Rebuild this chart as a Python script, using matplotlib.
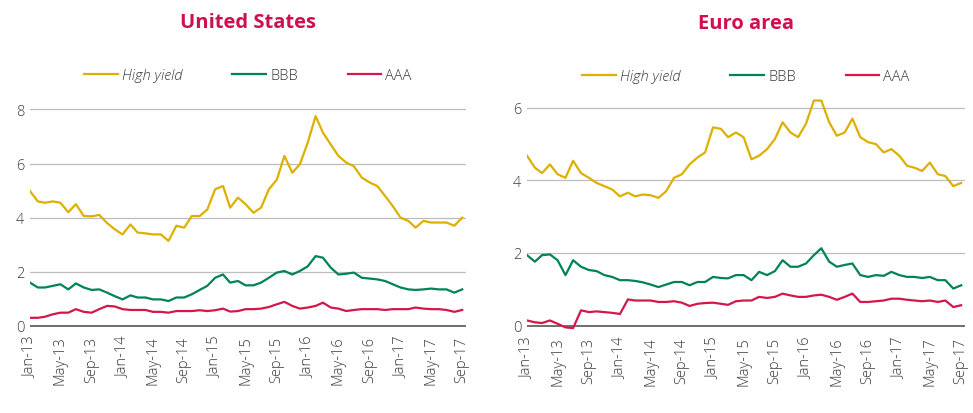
#!/usr/bin/env python3

from __future__ import annotations

import matplotlib
import pandas as pd

matplotlib.use("Agg")
import matplotlib.pyplot as plt


# monthly readings, Jan-13 .. Sep-17 (57 months)
dates = pd.date_range("2013-01-01", periods=57, freq="MS")

us_high_yield = [
    4.98, 4.60, 4.55, 4.60, 4.55, 4.20, 4.50, 4.06, 4.05, 4.10, 3.80, 3.57,
    3.38, 3.75, 3.45, 3.42, 3.38, 3.38, 3.14, 3.70, 3.63, 4.06, 4.06, 4.30,
    5.05, 5.17, 4.37, 4.74, 4.50, 4.18, 4.37, 5.05, 5.40, 6.28, 5.66, 5.97,
    6.77, 7.75, 7.14, 6.70, 6.28, 6.03, 5.90, 5.48, 5.30, 5.17, 4.80, 4.43,
    4.00, 3.88, 3.63, 3.88, 3.82, 3.82, 3.82, 3.70, 4.00,
]
us_bbb = [
    1.60, 1.42, 1.42, 1.48, 1.54, 1.35, 1.57, 1.42, 1.33, 1.35, 1.23, 1.10,
    0.98, 1.13, 1.05, 1.05, 0.98, 0.98, 0.92, 1.05, 1.05, 1.17, 1.33, 1.48,
    1.78, 1.90, 1.60, 1.66, 1.50, 1.50, 1.60, 1.78, 1.97, 2.03, 1.90, 2.03,
    2.20, 2.58, 2.52, 2.15, 1.90, 1.93, 1.97, 1.78, 1.75, 1.72, 1.66, 1.54,
    1.42, 1.35, 1.33, 1.35, 1.38, 1.35, 1.35, 1.23, 1.35,
]
us_aaa = [
    0.30, 0.30, 0.34, 0.43, 0.49, 0.49, 0.62, 0.52, 0.49, 0.62, 0.74, 0.72,
    0.62, 0.59, 0.59, 0.59, 0.52, 0.52, 0.49, 0.55, 0.55, 0.55, 0.58, 0.55,
    0.58, 0.64, 0.53, 0.55, 0.62, 0.62, 0.64, 0.70, 0.80, 0.89, 0.74, 0.64,
    0.68, 0.74, 0.86, 0.68, 0.64, 0.55, 0.59, 0.62, 0.62, 0.62, 0.59, 0.62,
    0.62, 0.62, 0.68, 0.64, 0.62, 0.62, 0.59, 0.52, 0.59,
]

ea_high_yield = [
    4.68, 4.35, 4.20, 4.44, 4.17, 4.07, 4.54, 4.20, 4.07, 3.93, 3.84, 3.75,
    3.56, 3.66, 3.56, 3.61, 3.59, 3.52, 3.70, 4.07, 4.17, 4.44, 4.63, 4.77,
    5.46, 5.42, 5.19, 5.32, 5.19, 4.58, 4.68, 4.86, 5.14, 5.60, 5.32, 5.19,
    5.56, 6.20, 6.20, 5.60, 5.23, 5.32, 5.70, 5.19, 5.05, 5.00, 4.77, 4.86,
    4.68, 4.40, 4.35, 4.26, 4.49, 4.17, 4.12, 3.84, 3.93,
]
ea_bbb = [
    1.94, 1.76, 1.94, 1.96, 1.80, 1.39, 1.80, 1.62, 1.53, 1.50, 1.39, 1.34,
    1.25, 1.25, 1.23, 1.19, 1.13, 1.06, 1.13, 1.20, 1.20, 1.11, 1.20, 1.20,
    1.34, 1.31, 1.30, 1.39, 1.39, 1.25, 1.48, 1.39, 1.50, 1.80, 1.62, 1.62,
    1.71, 1.94, 2.13, 1.76, 1.62, 1.67, 1.71, 1.39, 1.34, 1.39, 1.37, 1.48,
    1.39, 1.34, 1.34, 1.31, 1.34, 1.25, 1.25, 1.02, 1.11,
]
ea_aaa = [
    0.14, 0.09, 0.07, 0.14, 0.05, -0.05, -0.07, 0.42, 0.37, 0.39, 0.37, 0.35,
    0.32, 0.72, 0.69, 0.69, 0.69, 0.65, 0.65, 0.67, 0.63, 0.54, 0.60, 0.62,
    0.63, 0.60, 0.57, 0.67, 0.69, 0.69, 0.79, 0.76, 0.79, 0.88, 0.83, 0.79,
    0.79, 0.83, 0.85, 0.79, 0.71, 0.79, 0.88, 0.65, 0.65, 0.67, 0.69, 0.74,
    0.74, 0.71, 0.69, 0.67, 0.69, 0.65, 0.69, 0.51, 0.56,
]

series_names = ["High yield", "BBB", "AAA"]
series_colors = ["#DDB000", "#00825A", "#D4174A"]

FONT = "Open Sans"
TEXT_COLOR = "#3A3A3A"
TITLE_COLOR = "#D0104C"


def draw_panel(fig, rect, title, values, y_ticks, y_top):
    ax = fig.add_axes(rect)
    for name, vals, color in zip(series_names, values, series_colors):
        ax.plot(dates, vals, color=color, linewidth=1.6, label=name)

    for y in y_ticks[1:]:
        ax.axhline(y, color="#BDBDBD", linewidth=0.9, zorder=0)
    ax.axhline(0, color="#555555", linewidth=1.2, zorder=0)

    ax.set_ylim(-0.15, y_top)
    ax.set_xlim(pd.Timestamp("2013-01-01"), pd.Timestamp("2017-09-16"))
    ax.set_yticks(y_ticks)
    ax.set_yticklabels([str(t) for t in y_ticks], fontfamily=FONT,
                       fontsize=10.5, fontweight="light", color=TEXT_COLOR)

    tick_dates = pd.date_range("2013-01-01", "2017-09-01", freq="4MS")
    ax.set_xticks(tick_dates)
    ax.set_xticklabels([d.strftime("%b-%y") for d in tick_dates],
                       rotation=90, fontfamily=FONT, fontsize=10.5,
                       fontweight="light", color=TEXT_COLOR)
    ax.tick_params(length=0, pad=4)
    for spine in ax.spines.values():
        spine.set_visible(False)

    ax.set_title(title, fontfamily=FONT, fontweight="bold", fontsize=14.5,
                 color=TITLE_COLOR, pad=42)
    leg = ax.legend(loc="lower center", bbox_to_anchor=(0.5, 0.955), ncol=3,
                    frameon=False, handlelength=2.3, handletextpad=0.3,
                    columnspacing=3.4,
                    prop={"family": FONT, "size": 10.5, "weight": "light"})
    for text in leg.get_texts():
        text.set_color(TEXT_COLOR)
    leg.get_texts()[0].set_fontstyle("italic")
    return ax


fig = plt.figure(figsize=(9.73, 4.14), dpi=100)
W, H = 973, 414

draw_panel(fig, (30 / W, (H - 331) / H, 436 / W, 245 / H), "United States",
           [us_high_yield, us_bbb, us_aaa], [0, 2, 4, 6, 8], 8.9)
draw_panel(fig, (527 / W, (H - 332) / H, 438 / W, 245 / H), "Euro area",
           [ea_high_yield, ea_bbb, ea_aaa], [0, 2, 4, 6], 6.6)

fig.savefig("out.png", dpi=100)
